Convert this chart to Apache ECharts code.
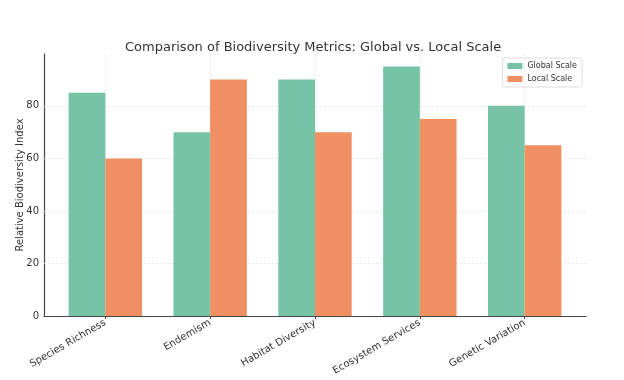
<!DOCTYPE html>
<html>
<head>
<meta charset="utf-8">
<script src="https://cdn.jsdelivr.net/npm/echarts@6/dist/echarts.min.js"></script>
<style>html,body{margin:0;padding:0;background:#fff;}#c{width:624px;height:380px;}</style>
</head>
<body>
<div id="c"></div>
<script>
var categories = ['Species Richness', 'Endemism', 'Habitat Diversity', 'Ecosystem Services', 'Genetic Variation'];
var globalScale = [85, 70, 90, 95, 80];
var localScale = [60, 90, 70, 75, 65];
var yTicks = [0, 20, 40, 60, 80];

var chart = echarts.init(document.getElementById('c'), null, {renderer: 'canvas'});
var font = 'DejaVu Sans';
var idx = categories.map(function (_, i) { return i; });

chart.setOption({
  animation: false,
  backgroundColor: '#ffffff',
  title: {
    text: 'Comparison of Biodiversity Metrics: Global vs. Local Scale',
    left: 120, top: 36,
    textStyle: {fontFamily: font, fontSize: 13, fontWeight: 'normal', color: '#333333'}
  },
  legend: {
    right: 42, top: 58, orient: 'vertical',
    itemWidth: 15, itemHeight: 6, itemGap: 5,
    padding: [4, 5, 4, 5],
    borderColor: '#dddddd', borderWidth: 1, borderRadius: 2,
    textStyle: {fontFamily: font, fontSize: 8, color: '#333333'},
    icon: 'rect',
    data: ['Global Scale', 'Local Scale']
  },
  grid: {left: 44, right: 38, top: 54, bottom: 64, containLabel: false, outerBoundsMode: 'none'},
  xAxis: {
    type: 'value', min: -0.585, max: 4.585,
    axisLine: {show: true, onZero: false, lineStyle: {color: '#444444', width: 1.2}},
    axisTick: {show: true, customValues: idx, length: 3, lineStyle: {color: '#444444'}},
    axisLabel: {
      customValues: idx, rotate: 30, fontFamily: font, fontSize: 10, color: '#333333', margin: 6,
      formatter: function (v) { return categories[Math.round(v)] || ''; }
    },
    splitLine: {show: false}
  },
  yAxis: {
    type: 'value', min: 0, max: 99.75,
    name: 'Relative Biodiversity Index', nameLocation: 'middle', nameGap: 19,
    nameMoveOverlap: false,
    nameTextStyle: {fontFamily: font, fontSize: 10, color: '#333333'},
    axisLine: {show: true, onZero: false, lineStyle: {color: '#444444', width: 1.2}},
    axisTick: {show: false},
    axisLabel: {
      customValues: yTicks, fontFamily: font, fontSize: 10, color: '#333333', margin: 5
    },
    splitLine: {show: false}
  },
  series: [
    {
      name: 'grid', type: 'line', data: [], z: 1, silent: true,
      markLine: {
        silent: true, symbol: 'none', label: {show: false}, z: 1,
        lineStyle: {color: '#e0e0e0', type: [2, 2], width: 0.8},
        data: idx.map(function (i) { return {xAxis: i}; }).concat(
          yTicks.slice(1).map(function (t) { return {yAxis: t}; }))
      }
    },
    {
      name: 'Global Scale', type: 'bar',
      data: globalScale.map(function (v, i) { return [i, v]; }),
      barWidth: 36.7, barGap: '0%',
      itemStyle: {color: '#76c3a6'},
      z: 3
    },
    {
      name: 'Local Scale', type: 'bar',
      data: localScale.map(function (v, i) { return [i, v]; }),
      barWidth: 36.7, barGap: '0%',
      itemStyle: {color: '#f08f61'},
      z: 3
    }
  ]
});
</script>
</body>
</html>
